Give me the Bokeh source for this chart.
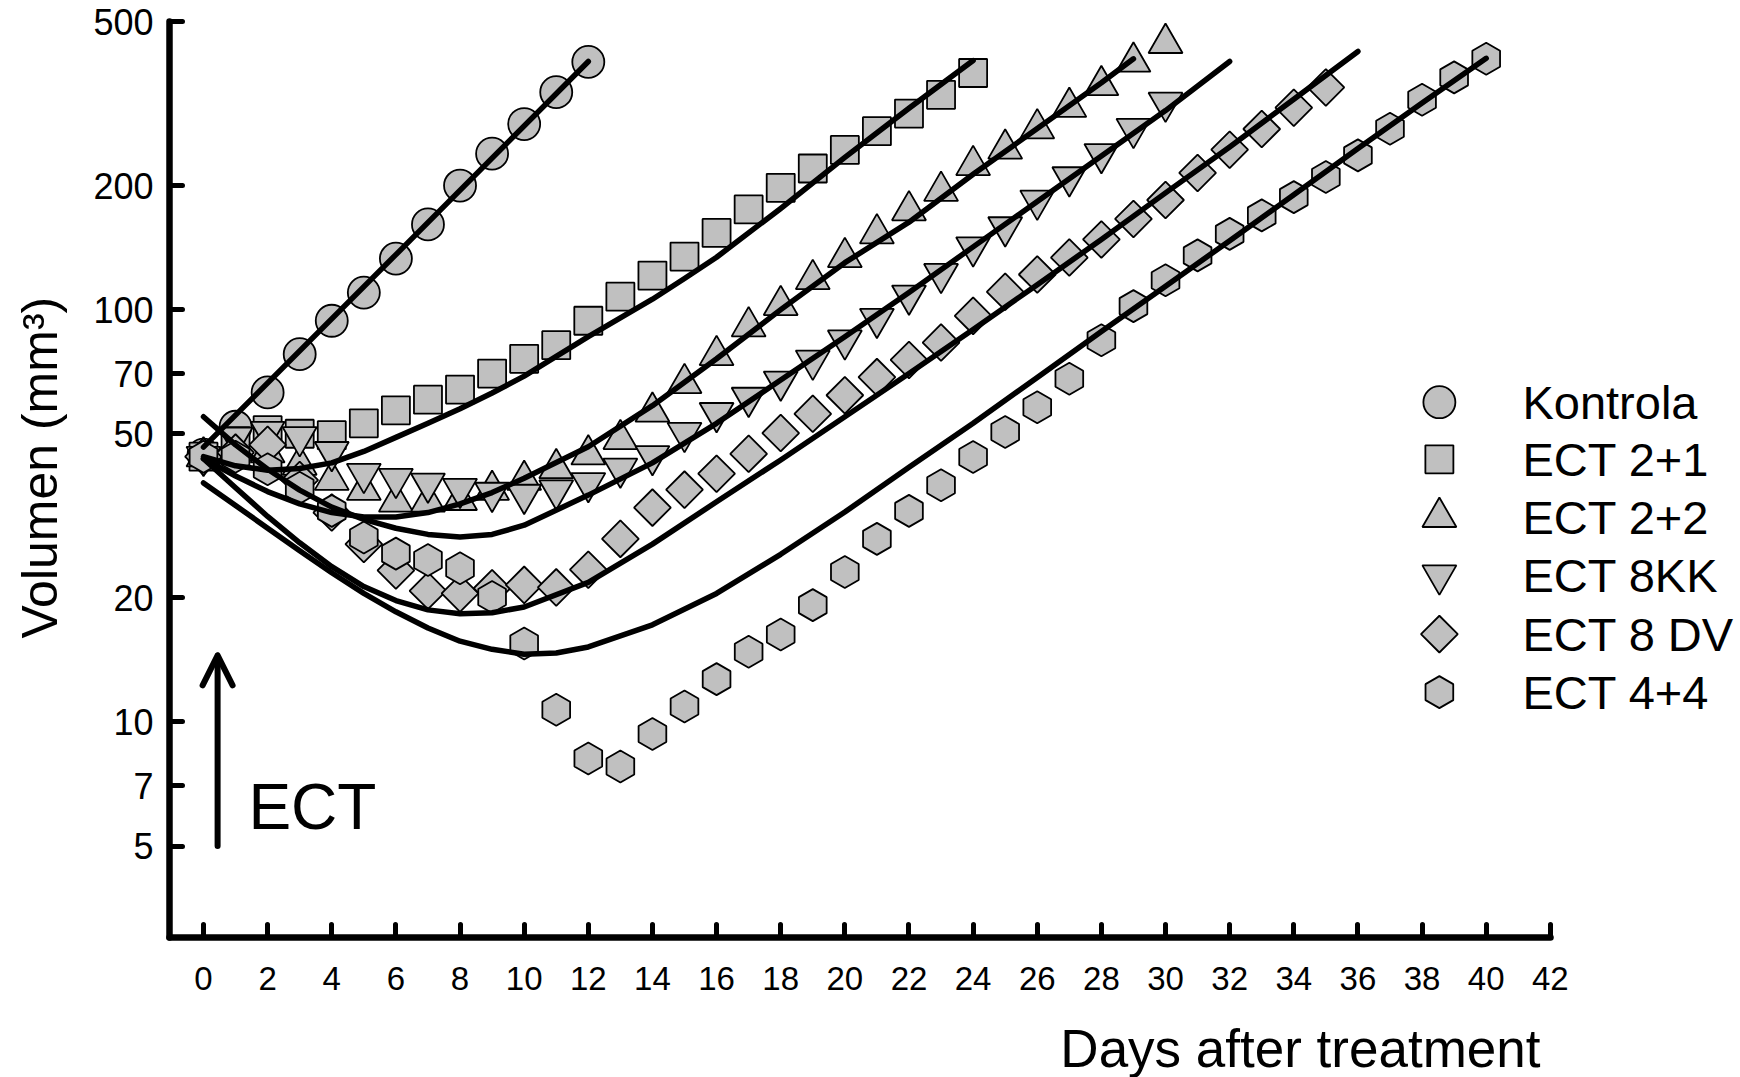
import numpy as np
from bokeh.plotting import figure
from bokeh.models import FixedTicker, Label, Arrow, OpenHead, Title
from bokeh.embed import file_html
from bokeh.resources import INLINE

# ---------------- data ----------------
kontrola_days = list(range(0, 13))
kontrola_vol = [44.5, 52, 63, 78, 94, 110, 133, 161, 200, 239, 282, 337, 399]

ect21_days = list(range(0, 25))
ect21_vol = [44, 48, 51, 50, 49.6, 53, 57, 60.5, 64, 70, 76, 82, 94, 107.5, 121,
             134.5, 153.5, 175, 197.5, 220, 244, 271, 299, 332, 375]

ect22_days = list(range(0, 31))
ect22_vol = [44, 45.5, 45, 42, 38.6, 36.5, 34.2, 34.2, 34.5, 36.5, 38.6, 41.2, 44.5,
             48.5, 56.5, 66.3, 77.5, 91, 102.5, 118.5, 134, 153, 174, 194, 224, 245.5,
             275, 310, 350, 399, 443]

ect8kk_days = list(range(0, 31))
ect8kk_vol = [44, 49, 50.6, 49.1, 45.2, 40, 38.9, 37.9, 36.8, 36, 35.6, 36.5, 38,
              41.2, 44.2, 50.3, 56.2, 61.2, 67, 75.3, 84.3, 95.1, 108.3, 122.2, 141.8,
              158.6, 184, 209.7, 238.7, 274.7, 318]

ect8dv_days = list(range(0, 36))
ect8dv_vol = [44, 45, 47, 38.6, 32.2, 27, 23.3, 20.8, 20.5, 21.1, 21.5, 21.2, 23.4,
              27.8, 33.1, 36.6, 40, 44.7, 50.2, 55.9, 62, 68.6, 75.5, 83.2, 96.6, 110.5,
              121.7, 133.8, 148, 166, 184.5, 214.6, 244.3, 274.3, 309, 346]

ect44_days = list(range(0, 41))
ect44_vol = [44, 44, 41, 37, 32.5, 28, 25.6, 24.7, 23.6, 20.1, 15.5, 10.7, 8.15, 7.8,
             9.35, 10.9, 12.7, 14.8, 16.3, 19.2, 23.1, 27.8, 32.5, 37.5, 43.9, 50.5, 58,
             68, 84.3, 102, 117.8, 135.4, 152.7, 169.3, 187.5, 209.7, 236.7, 274.7, 323,
             366, 406]

# fitted curves
fit_kontrola_days = [0, 6, 12]
fit_kontrola_vol = [46.4, 136, 400]

fit21_days = [0, 1, 2, 3, 4, 5, 6, 7, 8, 9, 10, 11, 12, 13, 14, 15, 16, 18, 20, 22, 24]
fit21_vol = [44, 41.8, 40.8, 41.2, 42.5, 45.3, 49, 53, 57.5, 62.8, 69, 77, 86, 95.5,
             106, 119, 134, 176, 234, 308, 402]

fit22_days = [0, 1, 2, 3, 4, 5, 6, 7, 8, 9, 10, 12, 14, 16, 18, 20, 22, 24, 26, 28, 29]
fit22_vol = [43.5, 39.5, 36.2, 33.8, 32.2, 31.4, 31.4, 32.2, 33.8, 36, 39, 46.5, 58.5,
             76, 100, 130, 163, 213, 275, 355, 406]

fit8kk_days = [0, 1, 2, 3, 4, 5, 6, 7, 8, 9, 10, 12, 14, 16, 18, 20, 22, 24, 26, 28, 30, 32]
fit8kk_vol = [55, 47, 41, 36.5, 33.2, 31, 29.5, 28.5, 28.1, 28.5, 30, 35.5, 42.5, 53,
              67.5, 86, 110, 142, 183, 236, 304, 400]

fit8dv_days = [0, 1, 2, 3, 4, 5, 6, 7, 8, 9, 10, 12, 14, 16, 18, 20, 22, 24, 26, 28, 30, 32, 34, 36]
fit8dv_vol = [43.5, 37, 31.5, 27.2, 23.8, 21.3, 19.7, 18.7, 18.3, 18.4, 19, 21.8, 27,
              34.2, 43.2, 55, 70, 89.5, 115, 148, 192, 248, 324, 423]

fit44_days = [0, 1, 2, 3, 4, 5, 6, 7, 8, 9, 10, 11, 12, 14, 16, 18, 20, 22, 24, 26, 28,
              30, 32, 34, 36, 38, 40]
fit44_vol = [38, 33.5, 29.5, 26, 23, 20.5, 18.5, 16.9, 15.7, 15, 14.6, 14.7, 15.2, 17.2,
             20.5, 25.5, 32.3, 41.5, 53, 68.5, 88.5, 114, 147, 190, 246, 317, 407]

series_labels = ["Kontrola", "ECT 2+1", "ECT 2+2", "ECT 8KK", "ECT 8 DV", "ECT 4+4"]
x_ticks = list(range(0, 43, 2))
y_ticks = [5, 7, 10, 20, 50, 70, 100, 200, 500]

# layout of the key and of the annotation (positions, not data)
key_marker_day = 38.54
key_text_day = 41.13
key_row_vol = [59.64, 43.36, 31.38, 22.69, 16.33, 11.81]
arrow_day = 0.44
arrow_from, arrow_to = 5.0, 14.5
ect_text_day, ect_text_vol = 1.40, 6.21

# ---------------- figure ----------------
FONT = "Liberation Sans"
p = figure(width=1740, height=1077, y_axis_type="log",
           x_range=(-1.06, 47.93), y_range=(3.0, 500),
           output_backend="svg", toolbar_location=None,
           min_border_left=169, min_border_right=0,
           min_border_top=21, min_border_bottom=140)
p.outline_line_color = None
p.grid.visible = False
p.background_fill_color = "white"
p.border_fill_color = "white"

for ax in (p.xaxis[0], p.yaxis[0]):
    ax.axis_line_width = 6.5
    ax.axis_line_cap = "round"
    ax.major_tick_line_width = 5
    ax.major_tick_line_cap = "round"
    ax.major_tick_in = 13
    ax.major_tick_out = 0
    ax.minor_tick_line_color = None
    ax.major_label_text_color = "black"
    ax.major_label_text_font = FONT
    ax.axis_label = " "
    ax.axis_label_text_font_size = "10px"

p.xaxis.bounds = (-1.06, 42)
p.xaxis.ticker = FixedTicker(ticks=x_ticks)
p.xaxis.major_label_text_font_size = "33px"
p.xaxis.major_label_standoff = 29
p.xaxis.axis_label_standoff = 10

p.yaxis.ticker = FixedTicker(ticks=y_ticks, minor_ticks=[])
p.yaxis.major_label_overrides = {t: str(t) for t in y_ticks}
p.yaxis.major_label_text_font_size = "36px"
p.yaxis.major_label_standoff = 16
p.yaxis.axis_label_standoff = 9

p.add_layout(Title(text="Volumen (mm³)", align="left", offset=299,
                   vertical_align="bottom", standoff=0, text_font=FONT,
                   text_font_size="50px", text_font_style="normal",
                   text_color="black"), "left")
p.add_layout(Title(text="Days after treatment", align="right", offset=200,
                   vertical_align="bottom", standoff=0, text_font=FONT,
                   text_font_size="53px", text_font_style="normal",
                   text_color="black"), "below")

GRAY = "#c0c0c0"
mk = dict(fill_color=GRAY, line_color="black", line_width=1.8)
marker_styles = [dict(marker="circle", size=32),
                 dict(marker="square", size=28),
                 dict(marker="triangle", size=34),
                 dict(marker="inverted_triangle", size=34),
                 dict(marker="square", angle=np.pi / 4, size=26),
                 dict(marker="hex", angle=np.pi / 2, size=32)]

all_days = [kontrola_days, ect21_days, ect22_days, ect8kk_days, ect8dv_days, ect44_days]
all_vols = [kontrola_vol, ect21_vol, ect22_vol, ect8kk_vol, ect8dv_vol, ect44_vol]
for xs, ys, st in zip(all_days, all_vols, marker_styles):
    p.scatter(xs, ys, **st, **mk)

ln = dict(line_color="black", line_width=5.5, line_cap="round", line_join="round")
for xs, ys in [(fit_kontrola_days, fit_kontrola_vol), (fit21_days, fit21_vol),
               (fit22_days, fit22_vol), (fit8kk_days, fit8kk_vol),
               (fit8dv_days, fit8dv_vol), (fit44_days, fit44_vol)]:
    p.line(xs, ys, **ln)

# key
for lab, st, yv in zip(series_labels, marker_styles, key_row_vol):
    p.scatter([key_marker_day], [yv], **st, **mk)
    p.add_layout(Label(x=key_text_day, y=yv, text=lab, text_font=FONT,
                       text_font_size="47px", text_baseline="middle",
                       text_color="black"))

p.add_layout(Arrow(end=OpenHead(size=30, line_width=6, line_cap="round", line_join="round"),
                   x_start=arrow_day, y_start=arrow_from, x_end=arrow_day, y_end=arrow_to,
                   line_width=6, line_cap="round"))
p.add_layout(Label(x=ect_text_day, y=ect_text_vol, text="ECT", text_font=FONT,
                   text_font_size="64px", text_baseline="middle", text_color="black"))

open("out.html", "w").write(file_html(p, INLINE))
